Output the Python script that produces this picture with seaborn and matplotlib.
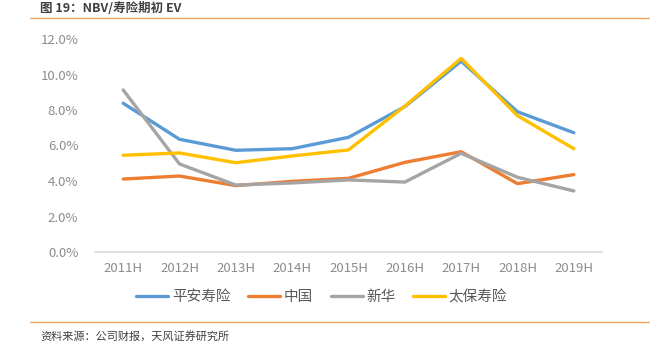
import matplotlib
matplotlib.use("Agg")
import matplotlib.pyplot as plt
import seaborn as sns
import pandas as pd
from matplotlib.lines import Line2D

years = ["2011H", "2012H", "2013H", "2014H", "2015H", "2016H", "2017H", "2018H", "2019H"]
pingan = [8.38, 6.35, 5.73, 5.82, 6.46, 8.19, 10.75, 7.90, 6.72]
zhongguo = [4.11, 4.28, 3.74, 3.98, 4.15, 5.05, 5.65, 3.85, 4.36]
xinhua = [9.13, 4.96, 3.77, 3.89, 4.06, 3.94, 5.56, 4.21, 3.44]
taibao = [5.45, 5.58, 5.03, 5.41, 5.75, 8.22, 10.91, 7.68, 5.82]
series_names = ["平安寿险", "中国", "新华", "太保寿险"]
colors = ["#5B9BD5", "#ED7D31", "#A5A5A5", "#FFC000"]

sns.set_theme(style="white")
plt.rcParams['font.family'] = ['Noto Sans CJK SC', 'DejaVu Sans']

rows = []
for name, vals in zip(series_names, [pingan, zhongguo, xinhua, taibao]):
    for i, (y, v) in enumerate(zip(years, vals)):
        rows.append({"year": y, "idx": i, "value": v, "series": name})
df = pd.DataFrame(rows)

fig = plt.figure(figsize=(6.5, 3.54), dpi=100)
ax = fig.add_axes([95/650, 1-252/354, (602-95)/650, (252-39)/354])
sns.lineplot(data=df, x="idx", y="value", hue="series", hue_order=series_names,
             palette=colors, linewidth=2.4, ax=ax, legend=False, sort=False)

ax.set_xlim(-0.5, 8.5)
ax.set_ylim(0, 12)
ax.set_xticks(range(len(years)))
ax.set_xticklabels(years)
ax.set_yticks([0, 2, 4, 6, 8, 10, 12])
ax.set_yticklabels([f"{t:.1f}%" for t in [0, 2, 4, 6, 8, 10, 12]])
ax.set_xlabel("")
ax.set_ylabel("")
for s in ["top", "right", "left"]:
    ax.spines[s].set_visible(False)
ax.spines["bottom"].set_color("#D9D9D9")
ax.spines["bottom"].set_linewidth(1.2)
ax.tick_params(axis="both", colors="#8C8C8C", labelsize=9.5, length=0)
ax.tick_params(axis="x", pad=7)
ax.tick_params(axis="y", pad=12)
ax.grid(False)

handles = [Line2D([0], [0], color=c, linewidth=2.4) for c in colors]
fig.legend(handles, series_names, loc="center", bbox_to_anchor=(0.495, 1-297/354),
           ncol=4, frameon=False, fontsize=10.5, handlelength=2.2, handletextpad=0.25,
           columnspacing=1.2, labelcolor="#595959")

fig.text(40/650, 1-8/354, "图 19：NBV/寿险期初 EV", fontsize=9, fontweight="bold",
         color="#404040", va="center", ha="left")
fig.add_artist(Line2D([30/650, 1.0], [1-18/354, 1-18/354], color="#F4A460", linewidth=1.0,
                      transform=fig.transFigure))
fig.add_artist(Line2D([30/650, 1.0], [1-322/354, 1-322/354], color="#F4A460", linewidth=1.0,
                      transform=fig.transFigure))
fig.text(40/650, 1-336/354, "资料来源：公司财报，天风证券研究所", fontsize=8, color="#404040",
         va="center", ha="left")

fig.savefig("out.png", dpi=100)
